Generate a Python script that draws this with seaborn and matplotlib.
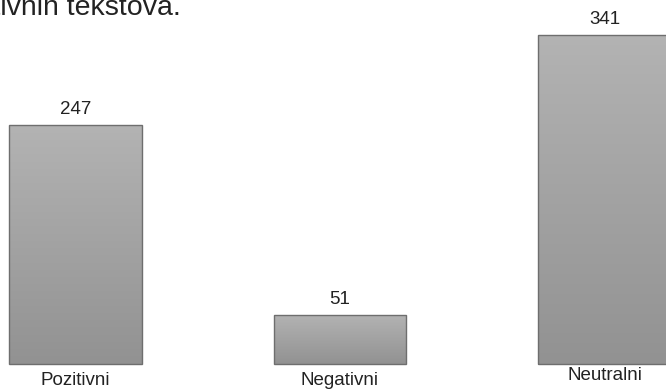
import numpy as np
import pandas as pd
import matplotlib
matplotlib.use("Agg")
import matplotlib.pyplot as plt
from matplotlib.colors import LinearSegmentedColormap
import seaborn as sns

categories = ["Pozitivni", "Negativni", "Neutralni"]
counts = [247, 51, 341]
title = "Broj pozitivnih, neutralnih i negativnih tekstova."

sns.set_theme(style="white")
plt.rcParams["font.family"] = ["Liberation Sans", "DejaVu Sans"]

W, H = 666, 389
fig = plt.figure(figsize=(W / 100, H / 100), dpi=100)
ax = fig.add_axes([0, 0, 1, 1])

df = pd.DataFrame({"kategorija": categories, "broj": counts})
sns.barplot(data=df, x="kategorija", y="broj", width=0.5, ax=ax,
            color="#a0a0a0", edgecolor="#6e6e6e", linewidth=1.0)

# pixel mapping: bar centres 264.5 px apart, first centre at 75.5 px
px_per_x = 264.5
x0 = 75.5
px_per_y = 0.966
base = 25
xlim = (-x0 / px_per_x, (W - x0) / px_per_x)
ylim = (-base / px_per_y, (H - base) / px_per_y)
ax.set_axis_off()

# vertical grey gradient inside every bar
grad_cmap = LinearSegmentedColormap.from_list("bar_grad", ["#929292", "#b3b3b3"])
gradient = np.linspace(0, 1, 256).reshape(-1, 1)
for patch in ax.patches:
    x, y = patch.get_x(), patch.get_y()
    w, h = patch.get_width(), patch.get_height()
    patch.set_facecolor("none")
    patch.set_zorder(3)
    im = ax.imshow(gradient, cmap=grad_cmap, origin="lower", aspect="auto",
                   extent=(x, x + w, y, y + h), zorder=2, interpolation="bicubic")
    im.set_clip_path(patch)
ax.set_xlim(*xlim)
ax.set_ylim(*ylim)

# value labels above bars
for i, v in enumerate(counts):
    ax.annotate(str(v), (i, v), xytext=(0, 5), textcoords="offset points",
                ha="center", va="bottom", fontsize=13.5, color="#222222")

# category labels under bars (pixel baselines from the top edge)
label_base = [385, 385, 380]
for i, (c, yb) in enumerate(zip(categories, label_base)):
    ax.text(i, (H - yb - base) / px_per_y, c, ha="center",
            va="baseline", fontsize=13.5, color="#222222")

# title, anchored so that its end sits near the top-left corner
fig.text(181 / W, 1 - 15 / H, title, ha="right", va="baseline",
         fontsize=20.5, color="#222222")

fig.savefig("out.png", dpi=100)
